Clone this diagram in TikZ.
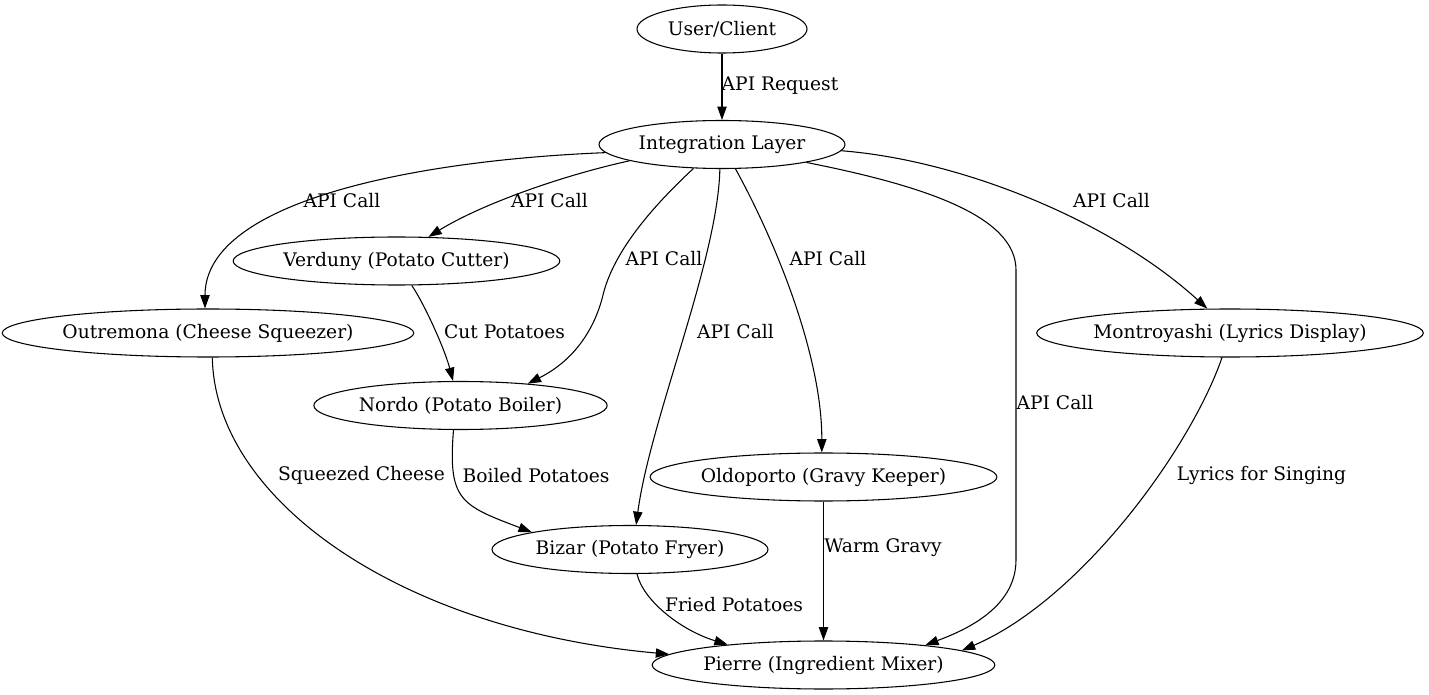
\documentclass[tikz,border=0pt]{standalone}
\usepackage{fontspec}
\setmainfont{DejaVu Serif}
\usepackage{tikz}
\usetikzlibrary{shapes.geometric, arrows.meta, positioning}

\begin{document}
\begin{tikzpicture}[x=0.75pt, y=-0.75pt,
    svc/.style={ellipse, draw, line width=0.8pt, inner sep=0pt, minimum height=36pt, font=\fontsize{14pt}{16pt}\selectfont},
    lbl/.style={inner sep=0pt, font=\fontsize{14pt}{16pt}\selectfont},
    arrow/.style={-{Triangle[length=10pt, width=7pt]}, line width=0.8pt}
]
\useasboundingbox (0,0) rectangle (1429,695);
% Client and integration layer
\node[svc, minimum width=127.5pt] (user) at (722,29) {User/Client};
\node[svc, minimum width=184.5pt] (integ) at (722,144.5) {Integration Layer};
% Services
\node[svc, minimum width=245pt] (verd) at (396.5,261) {Verduny (Potato Cutter)};
\node[svc, minimum width=307.5pt] (outr) at (208,333) {Outremona (Cheese Squeezer)};
\node[svc, minimum width=289.5pt] (montr) at (1230,333) {Montroyashi (Lyrics Display)};
\node[svc, minimum width=220pt] (nordo) at (460.5,405.5) {Nordo (Potato Boiler)};
\node[svc, minimum width=260pt] (oldo) at (823.5,477) {Oldoporto (Gravy Keeper)};
\node[svc, minimum width=207pt] (bizar) at (630,549.5) {Bizar (Potato Fryer)};
% Mixer at the bottom
\node[svc, minimum width=257pt] (pierre) at (823.5,665) {Pierre (Ingredient Mixer)};
% Edge labels
\node[lbl] (lreq) at (780,86) {API Request};
\node[lbl] (lcoutr) at (342,201) {API Call};
\node[lbl] (lcverd) at (549.5,201) {API Call};
\node[lbl] (lcnordo) at (664,259) {API Call};
\node[lbl] (lcbizar) at (735.5,331.5) {API Call};
\node[lbl] (lcoldo) at (828,259) {API Call};
\node[lbl] (lcmontr) at (1111.5,201) {API Call};
\node[lbl] (lcpierre) at (1055,403) {API Call};
\node[lbl] (lcut) at (504.5,331.5) {Cut Potatoes};
\node[lbl] (lcheese) at (361.5,475.5) {Squeezed Cheese};
\node[lbl] (lboil) at (536,475.5) {Boiled Potatoes};
\node[lbl] (lgravy) at (883,547.5) {Warm Gravy};
\node[lbl] (lfry) at (734,605) {Fried Potatoes};
\node[lbl] (llyrics) at (1261.5,475.5) {Lyrics for Singing};
% Request into the integration layer
\draw[arrow] (user) -- (integ);
% API calls
\draw[arrow] (integ.184) .. controls (420,160) and (205,200) .. (outr.97);
\draw[arrow] (integ.190) .. controls (560,176) and (480,205) .. (verd.37);
\draw[arrow] (integ.220) .. controls (665,195) and (615,245) .. (603,295)
    .. controls (595,328) and (575,360) .. (nordo.18);
\draw[arrow] (integ.265) .. controls (718,260) and (650,420) .. (bizar.76);
\draw[arrow] (integ.299) .. controls (780,250) and (822,360) .. (oldo.94);
\draw[arrow] (integ.348) .. controls (920,185) and (1016,215) .. (1016,270)
    -- (1016,560) .. controls (1016,610) and (960,632) .. (pierre.11);
\draw[arrow] (integ.357) .. controls (960,160) and (1110,220) .. (montr.133);
% Data flow between services
\draw[arrow] (verd.302) .. controls (425,305) and (445,350) .. (nordo.107);
\draw[arrow] (nordo.254) .. controls (448,500) and (460,505) .. (bizar.170);
\draw[arrow] (outr.280) .. controls (215,500) and (400,630) .. (pierre.176);
\draw[arrow] (bizar.286) .. controls (643,600) and (680,630) .. (pierre.168);
\draw[arrow] (oldo) -- (pierre);
\draw[arrow] (montr.252) .. controls (1190,450) and (1080,600) .. (pierre.6);
\end{tikzpicture}
\end{document}
